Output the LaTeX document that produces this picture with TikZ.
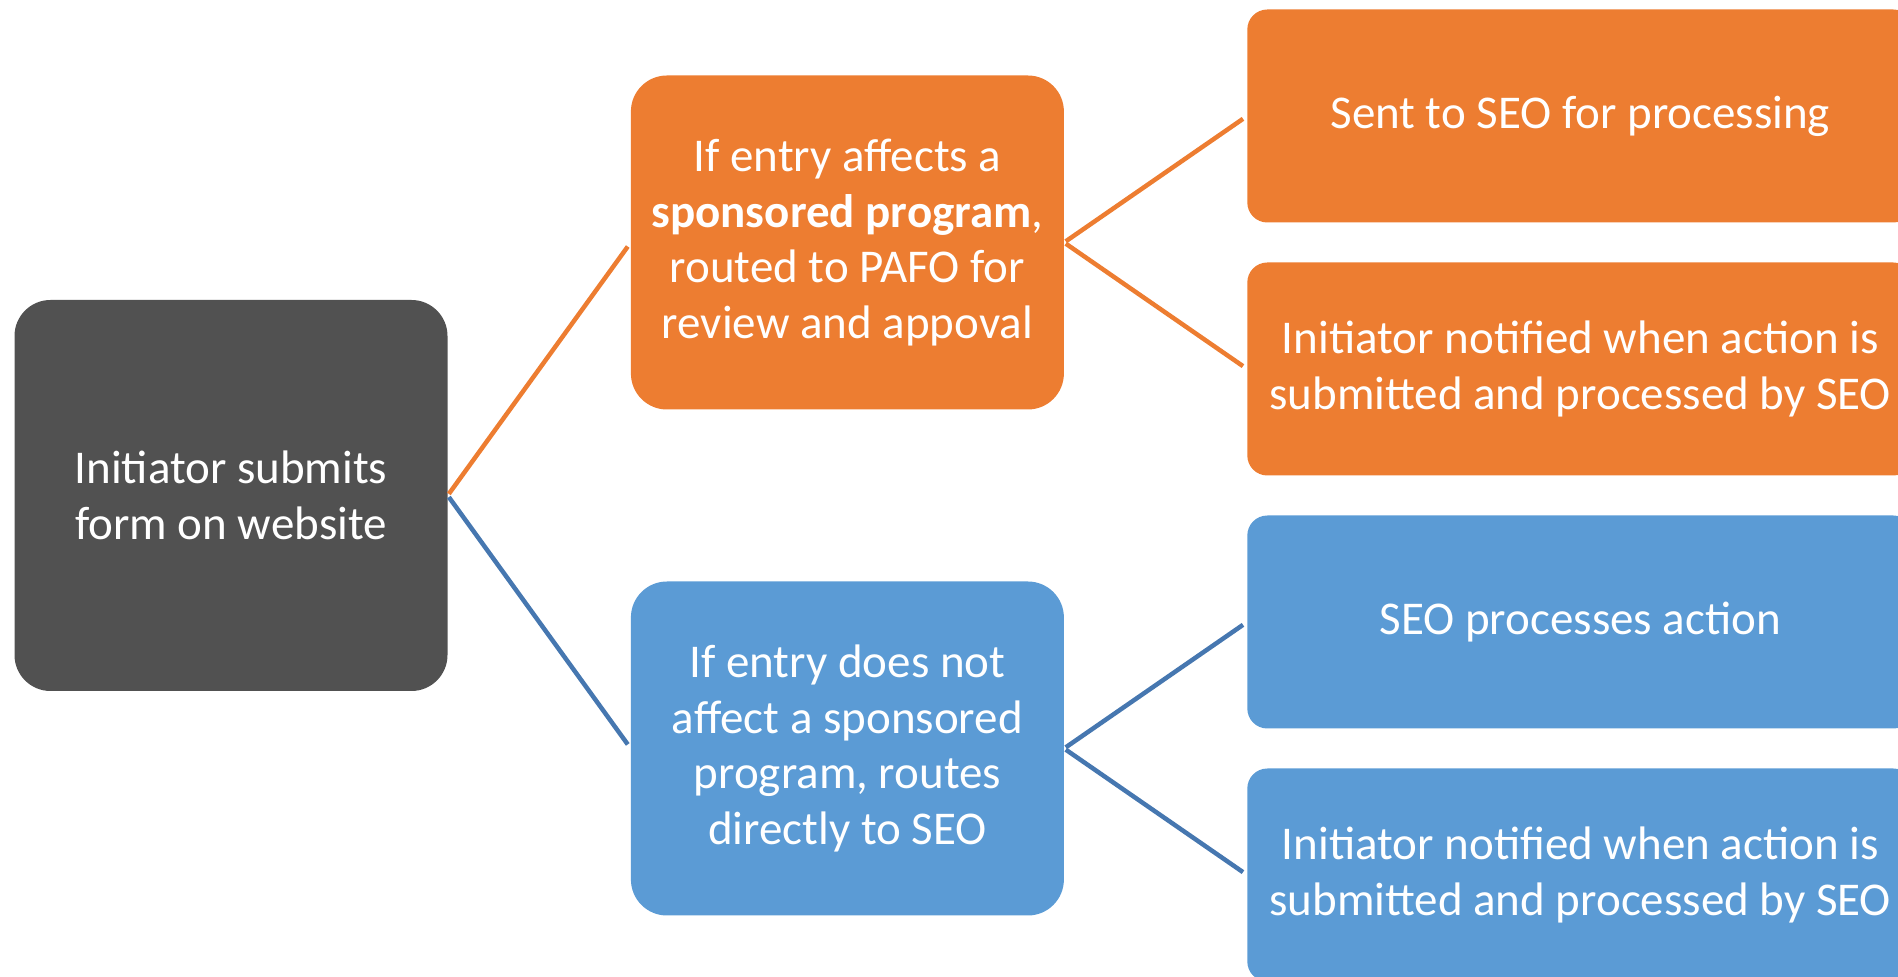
\documentclass[tikz,border=0pt]{standalone}
\usepackage{fontspec}
\setmainfont{Carlito}
\usetikzlibrary{positioning}

\definecolor{slate}{HTML}{515151}
\definecolor{accorange}{HTML}{ED7D31}
\definecolor{accblue}{HTML}{5B9BD5}
\definecolor{lineblue}{HTML}{4677B0}

\begin{document}
\begin{tikzpicture}[
  x=1pt, y=1pt,
  card/.style={rounded corners=36pt, text=white, align=center, inner sep=0pt,
               font=\fontsize{47}{55.7}\selectfont},
  root/.style={card, fill=slate, minimum width=433pt, minimum height=391pt},
  mid/.style={card, minimum width=433pt, minimum height=334pt},
  leaf/.style={card, rounded corners=20pt, minimum width=666pt, minimum height=213pt},
  link/.style={line width=4.5pt, shorten <=2pt, shorten >=5pt}
]
\useasboundingbox (0,0) rectangle (1898,977);

\node[root] (init) at (231,481.5) {Initiator submits\\form on website};
\node[mid, fill=accorange, right=183pt of init, yshift=253pt] (pafo)
  {If entry affects a\\\textbf{sponsored program},\\routed to PAFO for\\review and appoval};
\node[mid, fill=accblue, right=183pt of init, yshift=-253pt] (direct)
  {If entry does not\\affect a sponsored\\program, routes\\directly to SEO};
\node[leaf, fill=accorange, right=183pt of pafo, yshift=126.5pt] (sent) {Sent to SEO for processing};
\node[leaf, fill=accorange, right=183pt of pafo, yshift=-126.5pt] (notifya)
  {Initiator notified when action is\\submitted and processed by SEO};
\node[leaf, fill=accblue, right=183pt of direct, yshift=126.5pt] (process) {SEO processes action};
\node[leaf, fill=accblue, right=183pt of direct, yshift=-126.5pt] (notifyb)
  {Initiator notified when action is\\submitted and processed by SEO};

\draw[link, accorange] (init.east) -- (pafo.west);
\draw[link, lineblue] (init.east) -- (direct.west);
\draw[link, accorange] (pafo.east) -- (sent.west);
\draw[link, accorange] (pafo.east) -- (notifya.west);
\draw[link, lineblue] (direct.east) -- (process.west);
\draw[link, lineblue] (direct.east) -- (notifyb.west);
\end{tikzpicture}
\end{document}
